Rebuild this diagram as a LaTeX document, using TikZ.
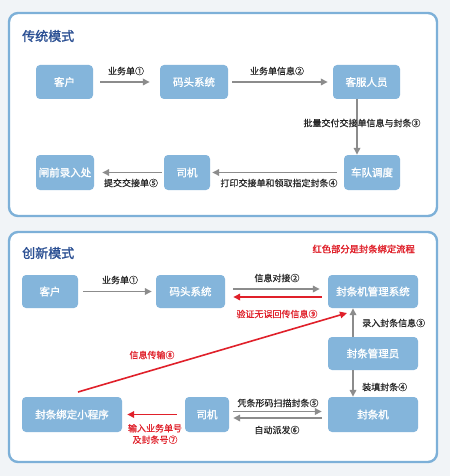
\documentclass[tikz,border=0pt]{standalone}
\usepackage{fontspec}
\setmainfont{Noto Sans CJK SC}
\newfontfamily\cjkb[FakeBold=1.5]{Noto Sans CJK SC}
\newfontfamily\cjkm[FakeBold=0.5]{Noto Sans CJK SC}
\usetikzlibrary{arrows.meta,calc}
\definecolor{panelline}{HTML}{7DB0D8}
\definecolor{nodefill}{HTML}{84B5DB}
\definecolor{titleblue}{HTML}{2A4F93}
\definecolor{arrgray}{HTML}{8C8C8C}
\definecolor{redc}{HTML}{E0202A}
\definecolor{bgc}{HTML}{F1F4F7}
\tikzset{
  panel/.style={draw=panelline,line width=2.4pt,rounded corners=9pt,fill=white},
  box/.style={fill=nodefill,rounded corners=4pt,text=white,font=\cjkb\fontsize{10.5}{12}\selectfont,inner sep=0pt,align=center},
  lbl/.style={font=\cjkm\fontsize{9}{11}\selectfont,inner sep=1pt,text=black!85},
  rlbl/.style={lbl,text=redc},
  garr/.style={draw=arrgray,line width=1.6pt,-{Triangle[length=7pt,width=6.5pt]}},
  rarr/.style={draw=redc,line width=1.6pt,-{Triangle[length=7pt,width=6.5pt]}},
  ttl/.style={font=\cjkb\fontsize{13}{15}\selectfont,text=titleblue,anchor=west,inner sep=0pt}
}
\begin{document}
\begin{tikzpicture}[x=1pt,y=-1pt]
\fill[bgc] (0,0) rectangle (450,476);
\useasboundingbox (0,0) rectangle (450,476);
% panels
\draw[panel] (9,13) rectangle (437,216);
\draw[panel] (9,232) rectangle (437,462);
\node[ttl] (t1) at (22,36) {传统模式};
\node[ttl] (t2) at (22,253) {创新模式};
\node[font=\cjkb\fontsize{9.3}{11}\selectfont,text=redc,anchor=east,inner sep=0pt] (note) at (415,249) {红色部分是封条绑定流程};

% top panel nodes
\node[box,minimum width=57pt,minimum height=34pt] (a1) at (64.5,82) {客户};
\node[box,minimum width=68pt,minimum height=34pt] (a2) at (194,82) {码头系统};
\node[box,minimum width=67pt,minimum height=34pt] (a3) at (366.5,82) {客服人员};
\node[box,minimum width=56pt,minimum height=35pt] (a4) at (372,172.5) {车队调度};
\node[box,minimum width=46pt,minimum height=35pt] (a5) at (187,172.5) {司机};
\node[box,minimum width=58pt,minimum height=35pt] (a6) at (65,172.5) {闸前录入处};

\draw[garr] ($(a1.east)+(7,0)$) -- ($(a2.west)+(-10,0)$);
\node[lbl] (l1) at (126,71) {业务单①};
\draw[garr] ($(a2.east)+(4,0)$) -- ($(a3.west)+(-5,0)$);
\node[lbl] (l2) at (277,71) {业务单信息②};
\draw[garr] (a3.south -| 357,0) -- (a4.north -| 357,0);
\node[lbl] (l3) at (362,123) {批量交付交接单信息与封条③};
\draw[garr] ($(a4.west)+(-7,0)$) -- ($(a5.east)+(2,0)$);
\node[lbl] (l4) at (279,183) {打印交接单和领取指定封条④};
\draw[garr] ($(a5.west)+(-2,0)$) -- ($(a6.east)+(8,0)$);
\node[lbl] (l5) at (131,183) {提交交接单⑤};

% bottom panel nodes
\node[box,minimum width=56pt,minimum height=33pt] (b1) at (50,291.5) {客户};
\node[box,minimum width=69pt,minimum height=33pt] (b2) at (190.5,291.5) {码头系统};
\node[box,minimum width=90pt,minimum height=33pt] (b3) at (373,291.5) {封条机管理系统};
\node[box,minimum width=90pt,minimum height=33pt] (b4) at (373,353.5) {封条管理员};
\node[box,minimum width=90pt,minimum height=35pt] (b5) at (373,414.5) {封条机};
\node[box,minimum width=44pt,minimum height=35pt] (b6) at (207,414.5) {司机};
\node[box,minimum width=100pt,minimum height=35pt] (b7) at (72,414.5) {封条绑定小程序};

\draw[garr] ($(b1.east)+(5,0)$) -- ($(b2.west)+(-4,0)$);
\node[lbl] (m1) at (120,280) {业务单①};
\draw[garr] ($(b2.east)+(8,-2.5)$) -- ($(b3.west)+(-8,-2.5)$);
\node[lbl] (m2) at (277,278) {信息对接②};
\draw[rarr] ($(b3.west)+(-6,5.5)$) -- ($(b2.east)+(8,5.5)$);
\node[rlbl] (m9) at (277,314) {验证无误回传信息⑨};
\draw[garr] (b4.north -| 353,0) -- (b3.south -| 353,0);
\node[lbl,anchor=west] (m3) at (361,323) {录入封条信息③};
\draw[garr] (b4.south -| 353,0) -- (b5.north -| 353,0);
\node[lbl,anchor=west] (m4) at (361,387) {装填封条④};
\coordinate (rs) at (78,392);
\coordinate (re) at (347,313);
\draw[rarr] (rs) -- (re);
\node[rlbl] (m8) at (152,355) {信息传输⑧};
\draw[garr] ($(b6.east)+(4,-3)$) -- ($(b5.west)+(-6,-3)$);
\node[lbl] (m5) at (278,403) {凭条形码扫描封条⑤};
\draw[garr] ($(b5.west)+(-6,3.5)$) -- ($(b6.east)+(4,3.5)$);
\node[lbl] (m6) at (277,430) {自动派发⑥};
\draw[rarr] ($(b6.west)+(-8,0)$) -- ($(b7.east)+(5,0)$);
\node[rlbl,align=center,font=\cjkm\fontsize{9}{11.5}\selectfont] (m7) at (155,434) {输入业务单号\\及封条号⑦};
\end{tikzpicture}
\end{document}
